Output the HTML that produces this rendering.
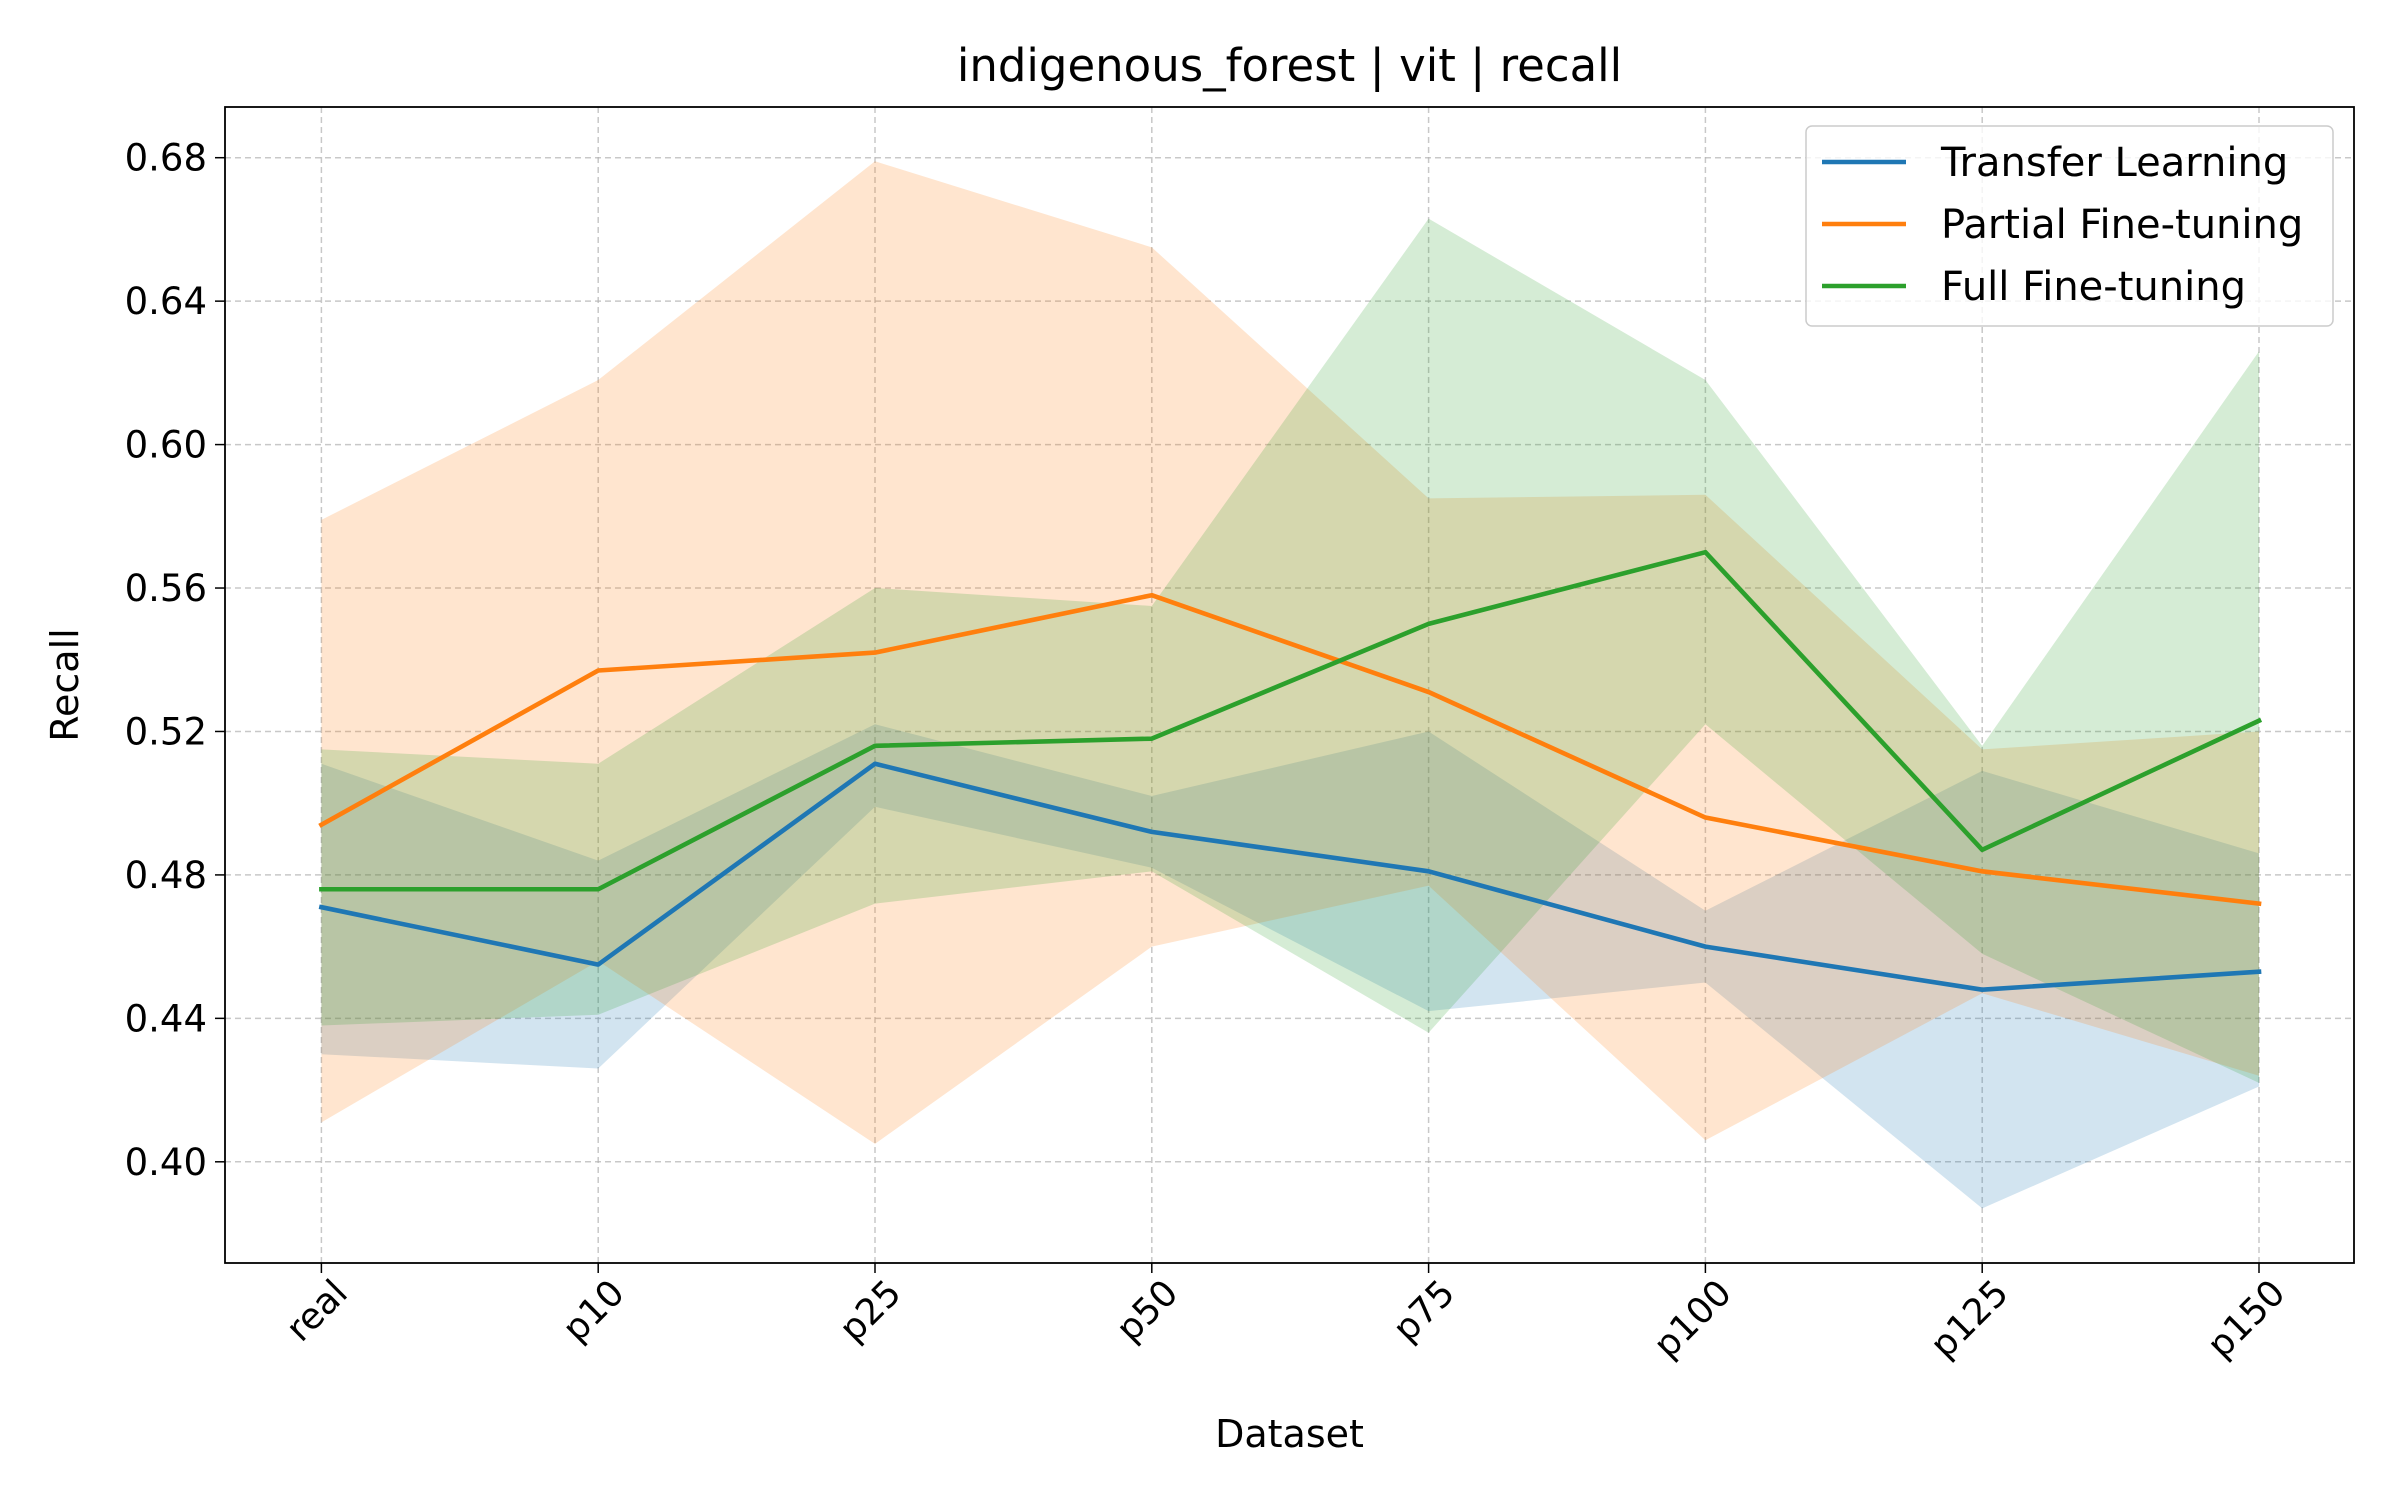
<!DOCTYPE html>
<html><head><meta charset="utf-8"><style>
html,body{margin:0;padding:0;background:#fff;}
svg text{font-family:"DejaVu Sans","Liberation Sans",sans-serif;fill:#000;}
</style></head><body>
<svg id="chart" width="2400" height="1500" viewBox="0 0 2400 1500" xmlns="http://www.w3.org/2000/svg">
<rect width="2400" height="1500" fill="#fff"/>
<g id="grid"></g><g id="bands"></g><g id="lines"></g><g id="axes"></g>
</svg>
<script>
const categories=["real","p10","p25","p50","p75","p100","p125","p150"];
const yTicks=[0.40,0.44,0.48,0.52,0.56,0.60,0.64,0.68];
const seriesNames=["Transfer Learning","Partial Fine-tuning","Full Fine-tuning"];
const colors=["#1f77b4","#ff7f0e","#2ca02c"];
const transferMean=[0.471,0.455,0.511,0.492,0.481,0.460,0.448,0.453];
const transferUpper=[0.511,0.484,0.522,0.502,0.520,0.470,0.509,0.486];
const transferLower=[0.430,0.426,0.499,0.482,0.442,0.450,0.387,0.421];
const partialMean=[0.494,0.537,0.542,0.558,0.531,0.496,0.481,0.472];
const partialUpper=[0.579,0.618,0.679,0.655,0.585,0.586,0.515,0.520];
const partialLower=[0.411,0.456,0.405,0.460,0.477,0.406,0.447,0.424];
const fullMean=[0.476,0.476,0.516,0.518,0.550,0.570,0.487,0.523];
const fullUpper=[0.515,0.511,0.560,0.555,0.663,0.618,0.516,0.626];
const fullLower=[0.438,0.441,0.472,0.481,0.436,0.522,0.458,0.422];

const L=225,R=2354,T=107,B=1263;
const x0=321.4,x1=2259;
const X=i=>x0+i*(x1-x0)/(categories.length-1);
const Y=v=>1161.8+(v-0.40)*(157.7-1161.8)/0.28;
const NS="http://www.w3.org/2000/svg";
function mk(tag,attrs,parent){const e=document.createElementNS(NS,tag);for(const k in attrs)e.setAttribute(k,attrs[k]);parent.appendChild(e);return e;}
const grid=document.getElementById('grid'),bands=document.getElementById('bands'),lines=document.getElementById('lines'),axes=document.getElementById('axes');
categories.forEach((c,i)=>{
 const g=mk('line',{x1:X(i),x2:X(i),y1:T,y2:B,stroke:'#b0b0b0','stroke-width':1.5,'stroke-dasharray':'6,4','stroke-opacity':0.7},grid);
 
 
 const t=mk('line',{x1:X(i),x2:X(i),y1:B,y2:B+10,stroke:'#000','stroke-width':1.5},axes);
 
 
 const ax=X(i)+10, ay=B+14;
 const lb=mk('text',{x:ax,y:ay,'font-size':36,'text-anchor':'end',transform:`rotate(-45 ${ax} ${ay})`,'dominant-baseline':'hanging'},axes);
 lb.textContent=c;
 
 
});
yTicks.forEach(v=>{
 const g=mk('line',{x1:L,x2:R,y1:Y(v),y2:Y(v),stroke:'#b0b0b0','stroke-width':1.5,'stroke-dasharray':'6,4','stroke-opacity':0.7},grid);
 
 
 const t=mk('line',{x1:L-10,x2:L,y1:Y(v),y2:Y(v),stroke:'#000','stroke-width':1.5},axes);
 
 
 const lb=mk('text',{x:L-18,y:Y(v)+13,'font-size':37,'text-anchor':'end'},axes);
 lb.textContent=v.toFixed(2);
 
 
});
const data=[[transferMean,transferUpper,transferLower],[partialMean,partialUpper,partialLower],[fullMean,fullUpper,fullLower]];
const keys=['transfer-learning','partial-fine-tuning','full-fine-tuning'];
data.forEach((d,s)=>{
 const up=d[1].map((v,i)=>`${X(i)},${Y(v)}`);
 const lo=d[2].map((v,i)=>`${X(i)},${Y(v)}`).reverse();
 const p=mk('polygon',{points:up.concat(lo).join(' '),fill:colors[s],'fill-opacity':0.2},bands);
 
 
});
data.forEach((d,s)=>{
 const l=mk('polyline',{points:d[0].map((v,i)=>`${X(i)},${Y(v)}`).join(' '),fill:'none',stroke:colors[s],'stroke-width':4.6,'stroke-linejoin':'round','stroke-linecap':'square'},lines);
 
 
});
const fr=mk('rect',{x:L,y:T,width:R-L,height:B-T,fill:'none',stroke:'#000','stroke-width':1.8},axes);


const ti=mk('text',{x:(L+R)/2,y:81,'font-size':45,'text-anchor':'middle'},axes);
ti.textContent='indigenous_forest | vit | recall';


const xt=mk('text',{x:(L+R)/2,y:1447,'font-size':38,'text-anchor':'middle'},axes);
xt.textContent='Dataset';


const yt=mk('text',{x:78,y:(T+B)/2,'font-size':38,'text-anchor':'middle',transform:`rotate(-90 78 ${(T+B)/2})`},axes);
yt.textContent='Recall';


const lg=mk('g',{},axes);


mk('rect',{x:1806,y:126,width:527,height:200,rx:6,fill:'#fff','fill-opacity':0.8,stroke:'#ccc','stroke-width':1.5},lg);
seriesNames.forEach((n,s)=>{
 const yy=162+s*62;
 const ln=mk('line',{x1:1822,x2:1906,y1:yy,y2:yy,stroke:colors[s],'stroke-width':4.6},lg);
 
 
 const tx=mk('text',{x:1941,y:yy+14,'font-size':40},lg);
 tx.textContent=n;
 
 
});
</script>
</body></html>
